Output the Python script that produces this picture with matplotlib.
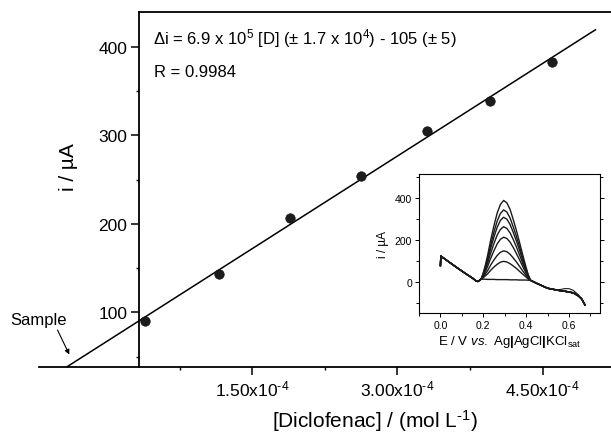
import numpy as np
import matplotlib
matplotlib.use("Agg")
import matplotlib.pyplot as plt
from matplotlib.ticker import MultipleLocator, FuncFormatter

plt.rcParams['font.family'] = ['Liberation Sans', 'DejaVu Sans']
plt.rcParams['mathtext.fontset'] = 'custom'
plt.rcParams['mathtext.rm'] = 'Liberation Sans'
plt.rcParams['mathtext.it'] = 'Liberation Sans:italic'
plt.rcParams['mathtext.bf'] = 'Liberation Sans:bold'

# calibration points (standard additions)
conc = [0.387e-4, 1.156e-4, 1.894e-4, 2.62e-4, 3.30e-4, 3.957e-4, 4.60e-4]
current = [89.9, 143.6, 206.2, 254.3, 305.1, 338.3, 383.0]
xticks_main = [1.5e-4, 3.0e-4, 4.5e-4]
xtick_labels = [r'1.50x10$^{\text{-4}}$', r'3.00x10$^{\text{-4}}$', r'4.50x10$^{\text{-4}}$']

# inset voltammograms
E_left = [0.0, 0.002, 0.04, 0.08, 0.12, 0.15, 0.165, 0.175, 0.19]
i_left = [80, 125, 97, 68, 40, 20, 8, 4, 15]
E_right = [0.42, 0.45, 0.50, 0.55, 0.59, 0.62, 0.645, 0.66, 0.675]
i_right = [10, -5, -28, -38, -44, -50, -65, -80, -108]
E_bump = [0.55, 0.58, 0.60, 0.62, 0.645]
i_bump = [-36, -30, -30, -38, -60]
E_peak = [0.19, 0.20, 0.21, 0.22, 0.235, 0.25, 0.265, 0.28, 0.295, 0.31,
          0.325, 0.34, 0.355, 0.37, 0.385, 0.40, 0.41, 0.42]
peaks = [
    [15, 15, 15, 14, 14, 14, 13, 13, 13, 13, 12, 12, 12, 11, 11, 11, 10, 10],
    [15, 22, 31, 40, 58, 73, 86, 96, 100, 97, 89, 78, 66, 52, 38, 25, 16, 10],
    [15, 26, 40, 55, 83, 107, 128, 143, 150, 146, 134, 116, 97, 75, 53, 33, 20, 10],
    [15, 31, 51, 75, 115, 151, 183, 205, 215, 209, 192, 166, 137, 106, 74, 43, 24, 10],
    [15, 35, 60, 90, 140, 185, 225, 252, 265, 257, 236, 204, 168, 129, 89, 51, 28, 10],
    [15, 39, 68, 103, 163, 216, 262, 295, 310, 301, 276, 238, 196, 151, 103, 59, 31, 10],
    [15, 42, 75, 114, 180, 240, 292, 328, 345, 335, 307, 264, 218, 167, 114, 64, 33, 10],
    [15, 45, 83, 127, 203, 270, 330, 371, 390, 379, 348, 299, 246, 188, 128, 71, 36, 10],
]

fig = plt.figure(figsize=(6.11, 4.39), dpi=100)
ax = fig.add_axes([139.3 / 611, 1 - 367.7 / 439, 1 - 139.3 / 611, (367.7 - 12.7) / 439])
xmin, xmax = 0.333e-4, 5.206e-4
ymin, ymax = 38.6, 439.5
ax.set_xlim(xmin, xmax)
ax.set_ylim(ymin, ymax)

m, b = np.polyfit(conc, current, 1)
x_start = (ymin - b) / m
xfit = np.array([x_start, 5.045e-4])
ax.plot(xfit, m * xfit + b, color='black', lw=1.1, clip_on=False, zorder=3)
ax.plot(conc, current, 'o', ms=6.8, mfc='#1c1c1c', mec='#111111', mew=0.5, zorder=4)

# axis line extended to the left
ax.plot([-0.70e-4, xmin], [ymin, ymin], color='black', lw=1.3, clip_on=False)

ax.spines['right'].set_visible(False)
for s in ['left', 'top', 'bottom']:
    ax.spines[s].set_linewidth(1.3)

ax.set_xticks(xticks_main)
ax.set_xticklabels(xtick_labels)
ax.xaxis.set_minor_locator(MultipleLocator(0.75e-4))
ax.yaxis.set_major_locator(MultipleLocator(100))
ax.yaxis.set_minor_locator(MultipleLocator(50))
ax.tick_params(which='major', direction='out', length=5.5, width=1.1, labelsize=12.5, pad=3)
ax.tick_params(which='minor', direction='out', length=2.5, width=1.0)

ax.set_xlabel(r'[Diclofenac] / (mol L$^{\text{-1}}$)', fontsize=15, labelpad=6)
fig.text(68 / 611, 1 - 167 / 439, 'i / µA', rotation=90, fontsize=15,
         ha='center', va='center')

ax.text(153 / 611, 1 - 38.3 / 439,
        'Δi = 6.9 x 10$^5$ [D] (± 1.7 x 10$^4$) - 105 (± 5)',
        transform=fig.transFigure, fontsize=12, ha='left', va='center')
ax.text(154 / 611, 1 - 72.7 / 439, 'R = 0.9984', transform=fig.transFigure,
        fontsize=12, ha='left', va='center')

fig.text(39 / 611, 1 - 320 / 439, 'Sample', fontsize=12, ha='center', va='center')
ax.annotate('', xy=(69.3 / 611, 1 - 355.5 / 439), xycoords='figure fraction',
            xytext=(57.5 / 611, 1 - 331 / 439), textcoords='figure fraction',
            arrowprops=dict(arrowstyle='-|>', color='black', lw=0.8,
                            mutation_scale=7, shrinkA=0, shrinkB=0))

# inset
ins = fig.add_axes([419 / 611, 1 - 314 / 439, 181 / 611, 139 / 439])
for curve in peaks:
    E = E_left + E_peak[1:] + E_right[1:]
    I = i_left + curve[1:] + i_right[1:]
    ins.plot(E, I, color='#1a1a1a', lw=1.0)
ins.plot(E_bump, i_bump, color='#1a1a1a', lw=0.8)
ins.set_xlim(-0.1, 0.745)
ins.set_ylim(-146, 516)
ins.xaxis.set_major_locator(MultipleLocator(0.2))
ins.xaxis.set_minor_locator(MultipleLocator(0.1))
ins.yaxis.set_major_locator(MultipleLocator(200))
ins.yaxis.set_minor_locator(MultipleLocator(100))
ins.xaxis.set_major_formatter(FuncFormatter(lambda v, p: '%.1f' % v))
ins.tick_params(which='both', direction='out', right=True, labelsize=7.5, pad=2,
                width=0.7)
ins.tick_params(which='major', length=3)
ins.tick_params(which='minor', length=2)
for s in ins.spines.values():
    s.set_linewidth(0.8)
ins.set_xlabel(r'E / V $\it{vs.}$ Ag$\mathbf{|}$AgCl$\mathbf{|}$KCl$_{\rm sat}$',
               fontsize=9.5, labelpad=2)
ins.set_ylabel('i / µA', fontsize=8.5, labelpad=4)

fig.savefig('out.png', dpi=100)
